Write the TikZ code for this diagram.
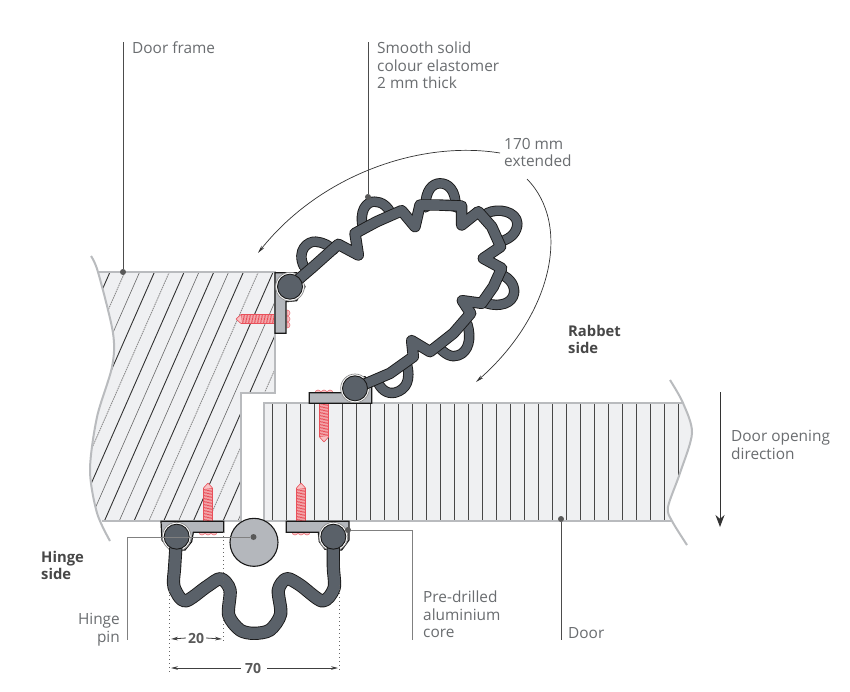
\documentclass[tikz,border=0pt]{standalone}
\usepackage{fontspec}
\setmainfont{Open Sans}
\usetikzlibrary{arrows.meta,calc}
\definecolor{sealc}{HTML}{5A6169}
\definecolor{metal}{HTML}{B4B7BC}
\definecolor{wood}{HTML}{EFF0F2}
\definecolor{edge}{HTML}{B9BBBE}
\definecolor{lab}{HTML}{6A6D70}
\definecolor{screwr}{HTML}{E8505A}
\definecolor{screwf}{HTML}{F8C3C5}
\newcommand{\myscrew}[4]{%
 \begin{scope}[shift={(#1,#2)},rotate=#3]
  \fill[screwf] (0,0) -- (5,-4.5) -- (38,-4.5) -- (38,4.5) -- (5,4.5) -- cycle;
  \foreach \u in {5.5,7,...,37} \draw[screwr,line width=.7pt] (\u,-4.5) -- (\u+1,4.5);
  \draw[screwr,line width=.6pt] (0,0) -- (5,-4.5) -- (38,-4.5) (0,0) -- (5,4.5) -- (38,4.5);
  \draw[screwr!80,fill=screwf,line width=.6pt] (#4,-9) arc[start angle=-90,end angle=90,radius=3]
     arc[start angle=-90,end angle=90,radius=3] arc[start angle=-90,end angle=90,radius=3] -- cycle;
 \end{scope}}
\tikzset{
 lbl/.style={text=lab,font=\fontsize{15.4}{17.5}\selectfont,inner sep=0pt,align=left,anchor=west},
 boldlbl/.style={lbl,font=\fontsize{14.8}{17.5}\selectfont\bfseries,text=black!72},
 ldot/.style={circle,fill=#1,inner sep=0pt,minimum size=6pt},
 ldot/.default={black!65},
 leaderd/.style={draw=black!70,line width=.8pt},
 leaderg/.style={draw=black!50,line width=1pt},
 bracket/.style={fill=metal,draw=black!90,line width=1.2pt,line join=miter},
 socket/.style={fill=white,draw=black!45,line width=.7pt},
 seal/.style={draw=black!90,double=sealc,double distance=#1,line width=.9pt,line join=round,line cap=round},
 seal/.default={9.6pt},
 knob/.style={circle,fill=sealc,draw=black!90,line width=.9pt,inner sep=0pt,minimum size=25pt},
 dimarr/.style={draw=black!75,line width=.8pt,-{Stealth[length=7pt,width=3.6pt]}},
 dotted line/.style={draw=black!60,line width=.9pt,dash pattern=on 1pt off 3pt},
 dimtext/.style={text=black!65,font=\fontsize{14}{16}\selectfont\bfseries,inner sep=2pt},
 zoomA/.style={x=.33333pt,y=-.33333pt,shift={(230pt,-170pt)}},
 zoomB/.style={x=.33333pt,y=-.33333pt,shift={(30pt,-490pt)}},
}
\begin{document}
\begin{tikzpicture}[x=1pt,y=-1pt]
\useasboundingbox (0,0) rectangle (850,691);
\fill[white] (0,0) rectangle (850,691);
% ---- door frame
\begin{scope}
 \clip (98,272) -- (275,272) -- (275,393) -- (241,393) -- (241,521) -- (102,521)
   -- plot[smooth] coordinates {(102,521) (97,513) (90,470) (97,417) (112,367) (113,333) (98,272)} -- cycle;
 \fill[wood] (0,200) rectangle (300,560);
 \foreach \k/\st in {0/a,1/b,2/c,3/a,4/b,5/a,6/c,7/a,8/c,9/a,10/b,11/a,12/c,13/a,14/b,15/a,16/c,17/a,18/b,19/a}{
  \pgfmathsetmacro{\xt}{110+14.83*\k}
  \if\st a \draw[black!80,line width=.9pt] (\xt,272) -- ++(-145,330);\fi
  \if\st b \draw[black!45,line width=.9pt,dash pattern=on 1.5pt off .8pt] (\xt,272) -- ++(-145,330);\fi
  \if\st c \draw[black!60,line width=.6pt] (\xt,272) -- ++(-145,330);\fi
 }
\end{scope}
\draw[edge,line width=1.3pt] (98,272) -- (275,272) -- (275,393) -- (241,393) -- (241,521) -- (102,521);
\draw[edge,line width=2pt] plot[smooth] coordinates {(110,541) (97,513) (90,470) (97,417) (112,367) (113,333) (98,272) (91,256)};
% ---- door
\begin{scope}
 \clip (264,403) -- (683,403) -- plot[smooth] coordinates {(683,403) (692,433) (680,473) (668,507) (672,521)} -- (264,521) -- cycle;
 \fill[wood] (250,390) rectangle (700,530);
 \foreach \k in {0,...,29}{
  \pgfmathsetmacro{\xd}{272.7+14*\k}
  \draw[black!72,line width=.9pt] (\xd,403) -- (\xd,521);
 }
\end{scope}
\draw[edge,line width=1.3pt] (683,403) -- (264,403) -- (264,521) -- (672,521);
\draw[edge,line width=2pt] plot[smooth] coordinates {(670,380) (683,403) (692,433) (680,473) (668,507) (672,521) (687,545)};
% ---- screws
\myscrew{236}{319}{0}{51}
\myscrew{324}{442}{90}{49}
\myscrew{208}{483}{-90}{49}
\myscrew{301}{483}{-90}{49}
% ---- upper seal
\begin{scope}[zoomA]
 \draw[bracket] (135,308) -- (200,308) -- (225,350) -- (200,392) -- (168,395) -- (168,490) -- (135,490) -- cycle;
 \draw[socket] (180,350) circle[radius=43];
 \draw[bracket] (238,668) -- (340,668) -- (350,630) -- (405,620) -- (425,650) -- (425,700) -- (238,700) -- cycle;
 \draw[socket] (375,655) circle[radius=43];
 \draw[seal=8.6pt] (222,290) .. controls (198,240) and (235,212) .. (258,215) .. controls (280,217) and (300,228) .. (310,240);
 \draw[seal=8.6pt] (400,178) .. controls (385,122) and (410,93) .. (435,95) .. controls (455,95) and (475,110) .. (485,135);
 \draw[seal=8.6pt] (587,112) .. controls (585,58) and (610,40) .. (630,40) .. controls (655,40) and (678,60) .. (677,112);
 \draw[seal=8.6pt] (770,130) .. controls (805,112) and (860,125) .. (862,160) .. controls (862,185) and (845,205) .. (812,215);
 \draw[seal=8.6pt] (810,312) .. controls (845,325) and (855,352) .. (852,370) .. controls (847,400) and (810,412) .. (770,400);
 \draw[seal=8.6pt] (712,462) .. controls (725,505) and (716,545) .. (685,556) .. controls (665,564) and (645,553) .. (625,530);
 \draw[seal=8.6pt] (530,580) .. controls (543,630) and (530,658) .. (495,668) .. controls (470,673) and (452,658) .. (440,630);
 \draw[seal] (180,350) -- (250,290) -- (325,223) -- (385,255) -- (375,190) -- (440,155) -- (515,122) -- (555,170)
   -- (570,105) -- (625,105) -- (695,108) -- (695,165) -- (745,125) -- (785,170) -- (812,230) -- (760,265) -- (815,295)
   -- (790,350) -- (755,400) -- (697,392) -- (722,430) -- (670,490) -- (600,545) -- (545,512) -- (550,560)
   -- (480,610) -- (375,655);
 \node[knob] (knobA) at (180,350) {};
 \node[knob] (knobB) at (375,655) {};
\end{scope}
% ---- hinge seal
\begin{scope}[zoomB]
 \draw[bracket] (393,94) -- (581,94) -- (581,127) -- (490,127) -- (485,155) -- (465,180) -- (420,180) -- (396,150) -- cycle;
 \draw[socket] (440,140) circle[radius=43];
 \draw[bracket] (769,94) -- (957,94) -- (957,150) -- (935,180) -- (885,178) -- (868,155) -- (865,127) -- (769,127) -- cycle;
 \draw[socket] (910,140) circle[radius=43];
 \draw[seal=11.4pt] plot[smooth,tension=.5] coordinates {(440,140) (434,230) (432,290) (465,333) (530,290) (572,266) (600,300) (596,375) (630,420) (672,430) (720,420) (752,372) (745,300) (770,266) (810,285) (877,333) (912,295) (910,230) (910,140)};
 \node[knob] (knobC) at (440,140) {};
 \node[knob] (knobD) at (910,140) {};
 \node[circle,draw=black!90,fill=metal,line width=1.1pt,inner sep=0pt,minimum size=48pt] (pin) at (672,157) {};
\end{scope}
% ---- dimension lines
\coordinate (d1a) at (169,575); \coordinate (d1b) at (169,672);
\coordinate (d2a) at (223,532); \coordinate (d2b) at (223,642);
\coordinate (d3a) at (339,585); \coordinate (d3b) at (339,672);
\draw[dotted line] (d1a) -- (d1b);
\draw[dotted line] (d2a) -- (d2b);
\draw[dotted line] (d3a) -- (d3b);
\node[dimtext] (twenty) at (196,638) {20};
\node[dimtext] (seventy) at (253,668) {70};
\coordinate (t1) at (171,639); \coordinate (t2) at (222,639);
\coordinate (s1) at (171,668); \coordinate (s2) at (338,668);
\draw[dimarr] (twenty.west) -- (t1);
\draw[dimarr] (twenty.east) -- (t2);
\draw[dimarr] (seventy.west) ++(-2,0) -- (s1);
\draw[dimarr] (seventy.east) ++(4,0) -- (s2);
% ---- curved arrows
\coordinate (a1s) at (500,153); \coordinate (a1e) at (258,253);
\coordinate (a2s) at (527,179); \coordinate (a2e) at (476,382);
\draw[black!80,line width=.7pt,-{Stealth[length=8pt,width=3.5pt]}] (a1s) .. controls (420,140) and (320,175) .. (a1e);
\draw[black!80,line width=.7pt,-{Stealth[length=8pt,width=3.5pt]}] (a2s) .. controls (572,225) and (552,315) .. (a2e);
% ---- door-opening arrow
\coordinate (oa) at (720,392); \coordinate (ob) at (720,527);
\draw[black!80,line width=1pt,-{Stealth[length=12pt,width=9pt]}] (oa) -- (ob);
% ---- leaders
\node[ldot] (dfdot) at (123,272) {};
\coordinate (dftop) at (123,42);
\draw[leaderd] (dfdot) -- (dftop);
\node[ldot] (smdot) at (368,197) {};
\coordinate (smtop) at (368,42);
\draw[leaderd] (smdot) -- (smtop);
\node[ldot] (doordot) at (561,519) {};
\coordinate (doorbot) at (561,640);
\draw[leaderd] (doordot) -- (doorbot);
\node[ldot] (pindot) at (253.5,537) {};
\coordinate (pinc) at (127,537); \coordinate (pine) at (127,640);
\draw[leaderg] (pindot) -- (pinc) -- (pine);
\node[ldot] (aludot) at (348,530) {};
\coordinate (aluc) at (412,530); \coordinate (alue) at (412,640);
\draw[leaderg] (aludot) -- (aluc) -- (alue);
% ---- labels
\node[lbl] (lframe) at (132,48) {Door frame};
\node[lbl,anchor=north west] (lsmooth) at (377,42) {Smooth solid\\colour elastomer\\2 mm thick};
\node[lbl,anchor=north west] (lext) at (504,138) {170 mm\\extended};
\node[boldlbl,anchor=north west] (lrab) at (568,325) {Rabbet\\side};
\node[lbl,anchor=north west] (lopen) at (731,430) {Door opening\\direction};
\node[boldlbl,anchor=north west] (lhinge) at (41,551) {Hinge\\side};
\node[lbl,anchor=north east,align=right] (lpin) at (120,613) {Hinge\\pin};
\node[lbl,anchor=north west] (lalu) at (423,591) {Pre-drilled\\aluminium\\core};
\node[lbl] (ldoor) at (568,633) {Door};
\end{tikzpicture}
\end{document}
